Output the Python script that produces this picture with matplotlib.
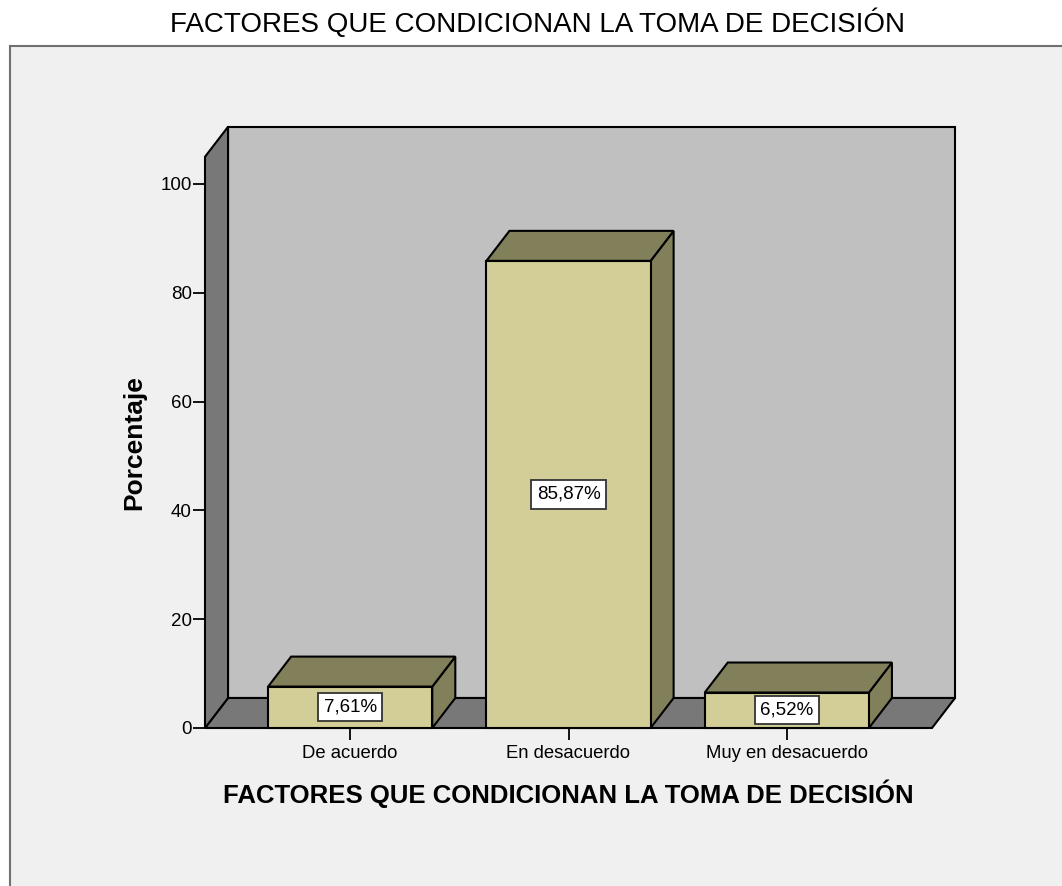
import matplotlib
matplotlib.use("Agg")
import matplotlib.pyplot as plt
from matplotlib.patches import Polygon, Rectangle

categories = ["De acuerdo", "En desacuerdo", "Muy en desacuerdo"]
values = [7.61, 85.87, 6.52]
labels = ["7,61%", "85,87%", "6,52%"]
yticks = [0, 20, 40, 60, 80, 100]
title = "FACTORES QUE CONDICIONAN LA TOMA DE DECISIÓN"
xlabel = "FACTORES QUE CONDICIONAN LA TOMA DE DECISIÓN"
ylabel = "Porcentaje"

plt.rcParams['font.family'] = ['Liberation Sans', 'DejaVu Sans']

W, H = 1062, 886
fig = plt.figure(figsize=(W / 100, H / 100), dpi=100)
fig.patch.set_facecolor("white")

# outer frame
fig.add_artist(Rectangle((10 / W, -0.1), 1.2, (H - 46) / H + 0.1,
                         transform=fig.transFigure, facecolor="#F0F0F0",
                         edgecolor="#707070", linewidth=1.5, zorder=0))

ymax = 105.0
left_px, right_px, y0_px = 205, 932, 728
ppu = 5.44
top_px = y0_px - ymax * ppu
ax = fig.add_axes([left_px / W, (H - y0_px) / H,
                   (right_px - left_px) / W, (y0_px - top_px) / H])
ax.set_facecolor("none")
xmin, xmax = -0.665, 2.665
ax.set_xlim(xmin, xmax)
ax.set_ylim(0, ymax)
for s in ax.spines.values():
    s.set_visible(False)

dx = 23 / 218.0
dy = 30 / ppu
wall = "#C0C0C0"
dark = "#787878"
front = "#D3CE98"
topc = "#827F5B"
ec = "black"
lw = 1.5

# back wall
ax.add_patch(Polygon([(xmin + dx, dy), (xmax + dx, dy), (xmax + dx, ymax + dy), (xmin + dx, ymax + dy)],
                     closed=True, facecolor=wall, edgecolor=ec, lw=lw, clip_on=False, zorder=1))
# floor
ax.add_patch(Polygon([(xmin, 0), (xmax, 0), (xmax + dx, dy), (xmin + dx, dy)],
                     closed=True, facecolor=dark, edgecolor=ec, lw=lw, clip_on=False, zorder=2))
# left wall
ax.add_patch(Polygon([(xmin, 0), (xmin + dx, dy), (xmin + dx, ymax + dy), (xmin, ymax)],
                     closed=True, facecolor=dark, edgecolor=ec, lw=lw, clip_on=False, zorder=2))

bw = 0.752
for i, (v, lab) in enumerate(zip(values, labels)):
    x0, x1 = i - bw / 2, i + bw / 2
    ax.add_patch(Polygon([(x1, 0), (x1 + dx, dy), (x1 + dx, v + dy), (x1, v)], closed=True,
                         facecolor=topc, edgecolor=ec, lw=lw, clip_on=False, zorder=3))
    ax.add_patch(Polygon([(x0, v), (x1, v), (x1 + dx, v + dy), (x0 + dx, v + dy)], closed=True,
                         facecolor=topc, edgecolor=ec, lw=lw, clip_on=False, zorder=3))
    ax.add_patch(Rectangle((x0, 0), bw, v, facecolor=front, edgecolor=ec, lw=lw,
                           clip_on=False, zorder=4))
    ax.text(i, v / 2, lab, ha="center", va="center", fontsize=13.5, zorder=6,
            bbox=dict(boxstyle="square,pad=0.3", facecolor="white", edgecolor="#333333", lw=1.3))

ax.set_xticks(range(len(categories)))
ax.set_xticklabels(categories, fontsize=13.3)
ax.set_yticks(yticks)
ax.set_yticklabels([str(t) for t in yticks], fontsize=13.5)
ax.tick_params(axis="y", length=8.5, width=1.3, color="black", pad=1)
ax.tick_params(axis="x", length=8.5, width=1.3, color="black", pad=4)

ax.set_xlabel(xlabel, fontsize=18.5, fontweight="bold", labelpad=12)
ax.set_ylabel(ylabel, fontsize=19, fontweight="bold", labelpad=10.5)

fig.text(537 / W, 1 - 23 / H, title, ha="center", va="center", fontsize=20)

fig.savefig("out.png", dpi=100)
